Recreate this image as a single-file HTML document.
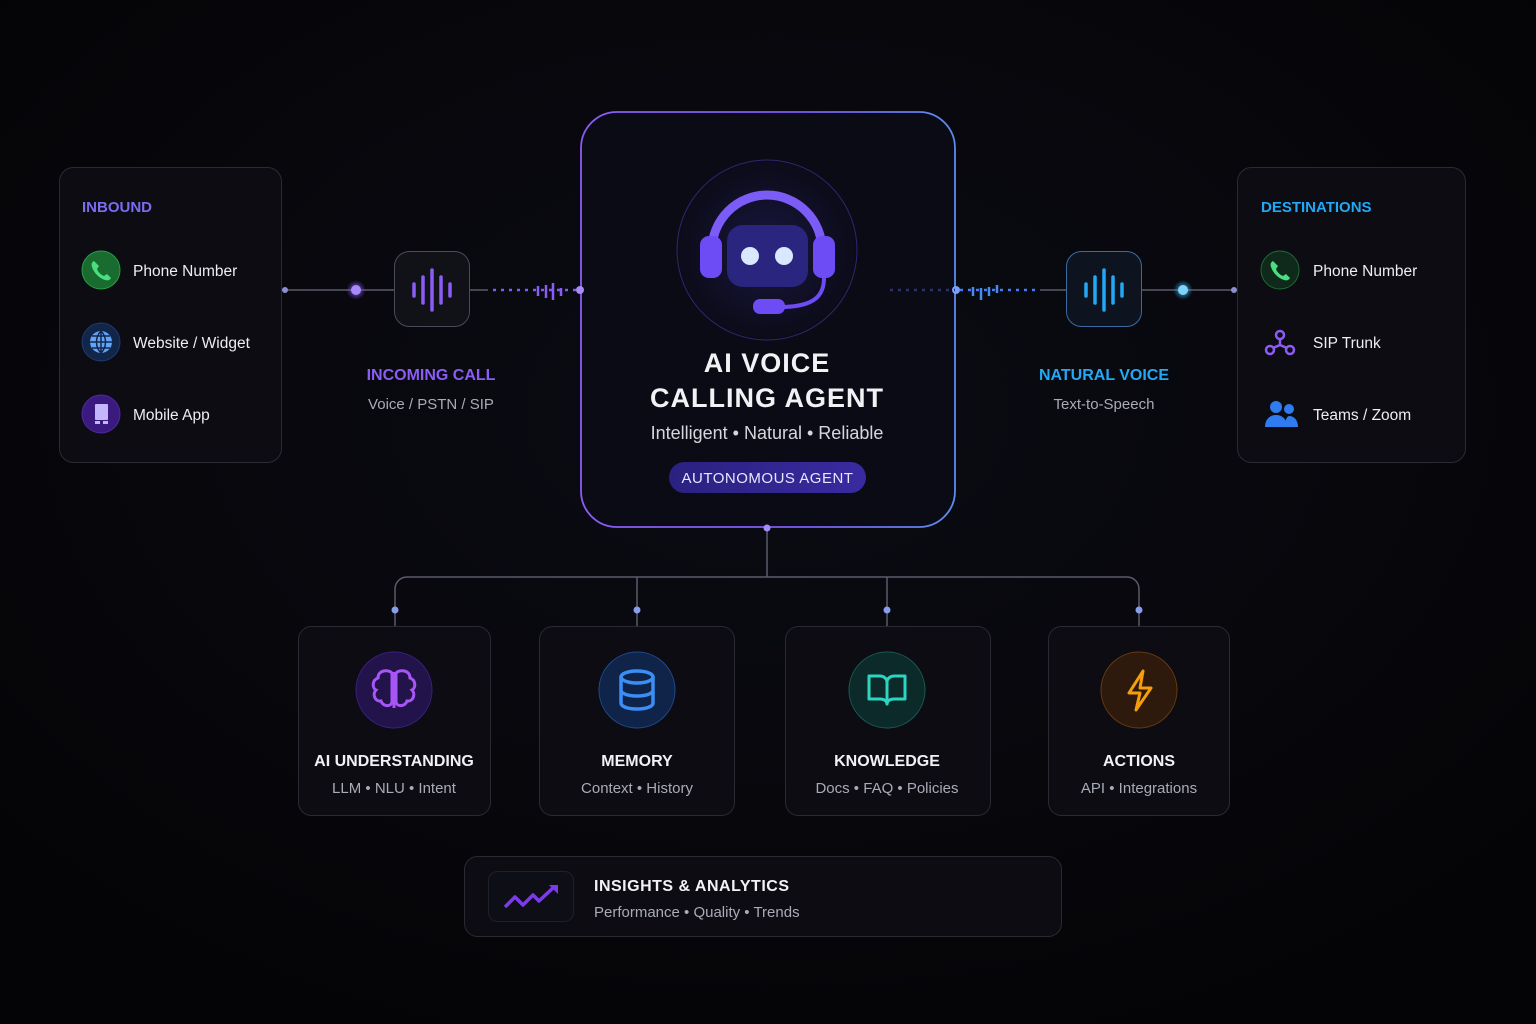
<!DOCTYPE html>
<html><head><meta charset="utf-8"><style>
html,body{margin:0;padding:0;background:#050509;}
svg{display:block;font-family:"Liberation Sans","DejaVu Sans",sans-serif;}
</style></head><body>
<svg width="1536" height="1024" viewBox="0 0 1536 1024" xmlns="http://www.w3.org/2000/svg">
<defs>
<radialGradient id="bg" cx="50%" cy="40%" r="70%"><stop offset="0" stop-color="#0b0b14"/><stop offset="1" stop-color="#040406"/></radialGradient>
<linearGradient id="cb" x1="0" y1="0" x2="1" y2="0"><stop offset="0" stop-color="#8b5cf6"/><stop offset="0.6" stop-color="#7c5cf6"/><stop offset="1" stop-color="#5b8cf0"/></linearGradient>
<radialGradient id="glowp"><stop offset="0" stop-color="#a78bfa" stop-opacity="0.9"/><stop offset="1" stop-color="#7c3aed" stop-opacity="0"/></radialGradient>
<radialGradient id="glowb"><stop offset="0" stop-color="#7dd3fc" stop-opacity="0.9"/><stop offset="1" stop-color="#0ea5e9" stop-opacity="0"/></radialGradient>
<radialGradient id="hg"><stop offset="0" stop-color="#1a1740"/><stop offset="1" stop-color="#0b0b18"/></radialGradient>
<linearGradient id="pill" x1="0" x2="1"><stop offset="0" stop-color="#2a2180"/><stop offset="1" stop-color="#3a2aa0"/></linearGradient>
</defs>
<rect width="1536" height="1024" fill="url(#bg)"/>

<!-- left panel -->
<rect x="59.5" y="167.5" width="222" height="295" rx="14" fill="#0c0c12" stroke="#2a2a33"/>
<text x="82" y="212" fill="#7b6cf0" font-size="15" font-weight="bold">INBOUND</text>
<circle cx="101" cy="270" r="19" fill="#1a6b30" stroke="#22a045"/>
<path d="M94 261c-2 1-3 3-2 6 2 6 7 11 13 13 3 1 5 0 6-2l-4-4-3 2c-3-1-6-4-7-7l2-3z" fill="#4ade80"/>
<circle cx="101" cy="342" r="19" fill="#12264a" stroke="#1e3a70"/>
<circle cx="101" cy="342" r="11" fill="#60a5fa"/>
<path d="M90 342h22M101 331v22M92 336h18M92 348h18M101 331c-6 6-6 16 0 22M101 331c6 6 6 16 0 22" stroke="#12264a" stroke-width="1.5" fill="none"/>
<circle cx="101" cy="414" r="19" fill="#3b1a80" stroke="#4c2aa0"/>
<rect x="95" y="404" width="13" height="16" rx="1" fill="#c4b5fd"/>
<rect x="95" y="421" width="5" height="3" fill="#c4b5fd"/><rect x="103" y="421" width="5" height="3" fill="#c4b5fd"/>
<g fill="#eceef2" font-size="15.5"><text x="133" y="276">Phone Number</text><text x="133" y="348">Website / Widget</text><text x="133" y="420">Mobile App</text></g>

<!-- left connector -->
<line x1="285" y1="290" x2="394" y2="290" stroke="#5a5a6a" stroke-width="1.5"/>
<circle cx="285" cy="290" r="3" fill="#8a8fd0"/>
<circle cx="356" cy="290" r="10" fill="url(#glowp)"/>
<circle cx="356" cy="290" r="5" fill="#a78bfa"/>
<rect x="394.5" y="251.5" width="75" height="75" rx="15" fill="#111118" stroke="#4a4a58"/>
<g stroke="#8b5cf6" stroke-width="3.5" stroke-linecap="round"><line x1="414" y1="284" x2="414" y2="296"/><line x1="423" y1="277" x2="423" y2="303"/><line x1="432" y1="270" x2="432" y2="310"/><line x1="441" y1="277" x2="441" y2="303"/><line x1="450" y1="284" x2="450" y2="296"/></g>
<line x1="470" y1="290" x2="488" y2="290" stroke="#5a5a6a" stroke-width="1.5"/>
<line x1="493" y1="290" x2="580" y2="290" stroke="#7c5cf6" stroke-width="2.5" stroke-dasharray="3 5"/>
<g stroke="#8b5cf6" stroke-width="2.5"><line x1="538" y1="286" x2="538" y2="296"/><line x1="546" y1="285" x2="546" y2="298"/><line x1="553" y1="283" x2="553" y2="300"/><line x1="561" y1="288" x2="561" y2="296"/></g>
<line x1="585" y1="290" x2="665" y2="290" stroke="#2e2a60" stroke-width="2.5" stroke-dasharray="3 5"/>
<text x="431" y="380" text-anchor="middle" fill="#8b5cf6" font-size="16" font-weight="bold">INCOMING CALL</text>
<text x="431" y="409" text-anchor="middle" fill="#a9abb6" font-size="15">Voice / PSTN / SIP</text>

<!-- center -->
<rect x="581" y="112" width="374" height="415" rx="36" fill="#0b0b16" stroke="url(#cb)" stroke-width="1.8"/>
<circle cx="580" cy="290" r="4" fill="#a78bfa"/>
<circle cx="956" cy="290" r="4" fill="#7aa0ff"/>
<line x1="890" y1="290" x2="955" y2="290" stroke="#2a3070" stroke-width="2.5" stroke-dasharray="3 5"/>
<circle cx="767" cy="250" r="90" fill="url(#hg)" stroke="#2c2870"/>
<path d="M712 250a55 55 0 0 1 110 0" fill="none" stroke="#7c5cf6" stroke-width="9"/>
<rect x="700" y="236" width="22" height="42" rx="9" fill="#6d4cf5"/>
<rect x="813" y="236" width="22" height="42" rx="9" fill="#6d4cf5"/>
<rect x="727" y="225" width="81" height="62" rx="16" fill="#2a2680"/>
<circle cx="750" cy="256" r="9" fill="#dbe7ff"/><circle cx="784" cy="256" r="9" fill="#dbe7ff"/>
<path d="M824 278c0 18-10 28-40 29" fill="none" stroke="#6d4cf5" stroke-width="4"/>
<rect x="753" y="299" width="32" height="15" rx="7" fill="#6d4cf5"/>
<g fill="#f2f2f5" font-size="27" font-weight="bold" text-anchor="middle" letter-spacing="1"><text x="767" y="372">AI VOICE</text><text x="767" y="407">CALLING AGENT</text></g>
<text x="767" y="439" text-anchor="middle" fill="#d6d7de" font-size="18">Intelligent • Natural • Reliable</text>
<rect x="669" y="462" width="197" height="31" rx="15.5" fill="url(#pill)"/>
<text x="767.5" y="483" text-anchor="middle" fill="#e6e8ff" font-size="15" letter-spacing="0.5">AUTONOMOUS AGENT</text>

<!-- right connector -->
<line x1="960" y1="290" x2="1040" y2="290" stroke="#4a7af0" stroke-width="2.5" stroke-dasharray="3 5"/>
<g stroke="#4a8af0" stroke-width="2.5"><line x1="973" y1="287" x2="973" y2="296"/><line x1="981" y1="288" x2="981" y2="300"/><line x1="989" y1="287" x2="989" y2="296"/><line x1="997" y1="285" x2="997" y2="293"/></g>
<line x1="1040" y1="290" x2="1066" y2="290" stroke="#5a5a6a" stroke-width="1.5"/>
<rect x="1066.5" y="251.5" width="75" height="75" rx="15" fill="#0d1420" stroke="#3a6aa0"/>
<g stroke="#22a8f5" stroke-width="3.5" stroke-linecap="round"><line x1="1086" y1="284" x2="1086" y2="296"/><line x1="1095" y1="277" x2="1095" y2="303"/><line x1="1104" y1="270" x2="1104" y2="310"/><line x1="1113" y1="277" x2="1113" y2="303"/><line x1="1122" y1="284" x2="1122" y2="296"/></g>
<line x1="1142" y1="290" x2="1234" y2="290" stroke="#5a5a6a" stroke-width="1.5"/>
<circle cx="1183" cy="290" r="10" fill="url(#glowb)"/>
<circle cx="1183" cy="290" r="5" fill="#7dd3fc"/>
<circle cx="1234" cy="290" r="3" fill="#8a8fd0"/>
<text x="1104" y="380" text-anchor="middle" fill="#22a8f5" font-size="16" font-weight="bold">NATURAL VOICE</text>
<text x="1104" y="409" text-anchor="middle" fill="#a9abb6" font-size="15">Text-to-Speech</text>

<!-- right panel -->
<rect x="1237.5" y="167.5" width="228" height="295" rx="14" fill="#0c0c12" stroke="#2a2a33"/>
<text x="1261" y="212" fill="#22a8f5" font-size="15" font-weight="bold">DESTINATIONS</text>
<circle cx="1280" cy="270" r="19" fill="#0f2a1a" stroke="#1e6a35"/>
<path d="M1273 261c-2 1-3 3-2 6 2 6 7 11 13 13 3 1 5 0 6-2l-4-4-3 2c-3-1-6-4-7-7l2-3z" fill="#4ade80"/>
<g stroke="#8b5cf6" stroke-width="2.5" fill="none"><circle cx="1280" cy="335" r="4"/><circle cx="1270" cy="350" r="4"/><circle cx="1290" cy="350" r="4"/><path d="M1280 339v6M1280 345l-7 3M1280 345l7 3"/></g>
<g fill="#2f7bf0"><circle cx="1276" cy="407" r="6"/><path d="M1265 427c0-8 5-12 11-12s11 4 11 12z"/><circle cx="1289" cy="409" r="5"/><path d="M1285 427c0-6 1-10 4-11 5 0 9 4 9 11z"/></g>
<g fill="#eceef2" font-size="15.5"><text x="1313" y="276">Phone Number</text><text x="1313" y="348">SIP Trunk</text><text x="1313" y="420">Teams / Zoom</text></g>

<!-- tree -->
<g stroke="#5a5a6a" stroke-width="1.5" fill="none">
<path d="M767 527V577"/>
<path d="M395 626V589a12 12 0 0 1 12-12H1127a12 12 0 0 1 12 12V626"/>
<path d="M637 577V626M887 577V626"/>
</g>
<circle cx="767" cy="528" r="3.5" fill="#a78bfa"/>
<g fill="#8a9cf0"><circle cx="395" cy="610" r="3.5"/><circle cx="637" cy="610" r="3.5"/><circle cx="887" cy="610" r="3.5"/><circle cx="1139" cy="610" r="3.5"/></g>

<!-- cards -->
<g fill="#0c0c12" stroke="#2a2a33">
<rect x="298.5" y="626.5" width="192" height="189" rx="13"/>
<rect x="539.5" y="626.5" width="195" height="189" rx="13"/>
<rect x="785.5" y="626.5" width="205" height="189" rx="13"/>
<rect x="1048.5" y="626.5" width="181" height="189" rx="13"/>
</g>
<circle cx="394" cy="690" r="38" fill="#22134a" stroke="#3a2080"/>
<g stroke="#a855f7" stroke-width="3" fill="none"><path d="M392 673c-4-4-14-3-14 5-6 2-6 10-2 12-4 4-1 12 5 11 2 6 10 6 11 1z"/><path d="M396 673c4-4 14-3 14 5 6 2 6 10 2 12 4 4 1 12-5 11-2 6-10 6-11 1z"/><path d="M394 672v36"/></g>
<circle cx="637" cy="690" r="38" fill="#0f2448" stroke="#1e4a90"/>
<g stroke="#3b8ef5" stroke-width="3.5" fill="none"><ellipse cx="637" cy="677" rx="16" ry="6"/><path d="M621 677v26c0 8 32 8 32 0v-26M621 690c0 8 32 8 32 0"/></g>
<circle cx="887" cy="690" r="38" fill="#0c2a2a" stroke="#1a5a50"/>
<g stroke="#2dd4bf" stroke-width="3" fill="none" stroke-linejoin="round"><path d="M869 676h11c4 0 7 3 7 6v22c0-3-3-5-7-5h-11z"/><path d="M905 676h-11c-4 0-7 3-7 6v22c0-3 3-5 7-5h11z"/></g>
<circle cx="1139" cy="690" r="38" fill="#2e1a0c" stroke="#6a3a10"/>
<path d="M1143 671l-14 22h11l-4 17 15-22h-11z" stroke="#f59e0b" stroke-width="3" fill="none" stroke-linejoin="round"/>
<g fill="#f2f2f5" font-size="16" font-weight="bold" text-anchor="middle"><text x="394" y="766">AI UNDERSTANDING</text><text x="637" y="766">MEMORY</text><text x="887" y="766">KNOWLEDGE</text><text x="1139" y="766">ACTIONS</text></g>
<g fill="#a9abb6" font-size="15" text-anchor="middle"><text x="394" y="793">LLM • NLU • Intent</text><text x="637" y="793">Context • History</text><text x="887" y="793">Docs • FAQ • Policies</text><text x="1139" y="793">API • Integrations</text></g>

<!-- insights -->
<rect x="464.5" y="856.5" width="597" height="80" rx="13" fill="#0c0c12" stroke="#2a2a33"/>
<rect x="488.5" y="871.5" width="85" height="50" rx="9" fill="#0e0e16" stroke="#20202a"/>
<path d="M505 907l10-10 8 8 10-10 6 6 14-13" stroke="#7c3aed" stroke-width="3.5" fill="none" stroke-linejoin="round"/>
<path d="M549 885h9v9z" fill="#7c3aed"/>
<text x="594" y="891" fill="#f2f2f5" font-size="16" font-weight="bold" letter-spacing="0.5">INSIGHTS &amp; ANALYTICS</text>
<text x="594" y="917" fill="#a9abb6" font-size="15">Performance • Quality • Trends</text>
</svg>
</body></html>
